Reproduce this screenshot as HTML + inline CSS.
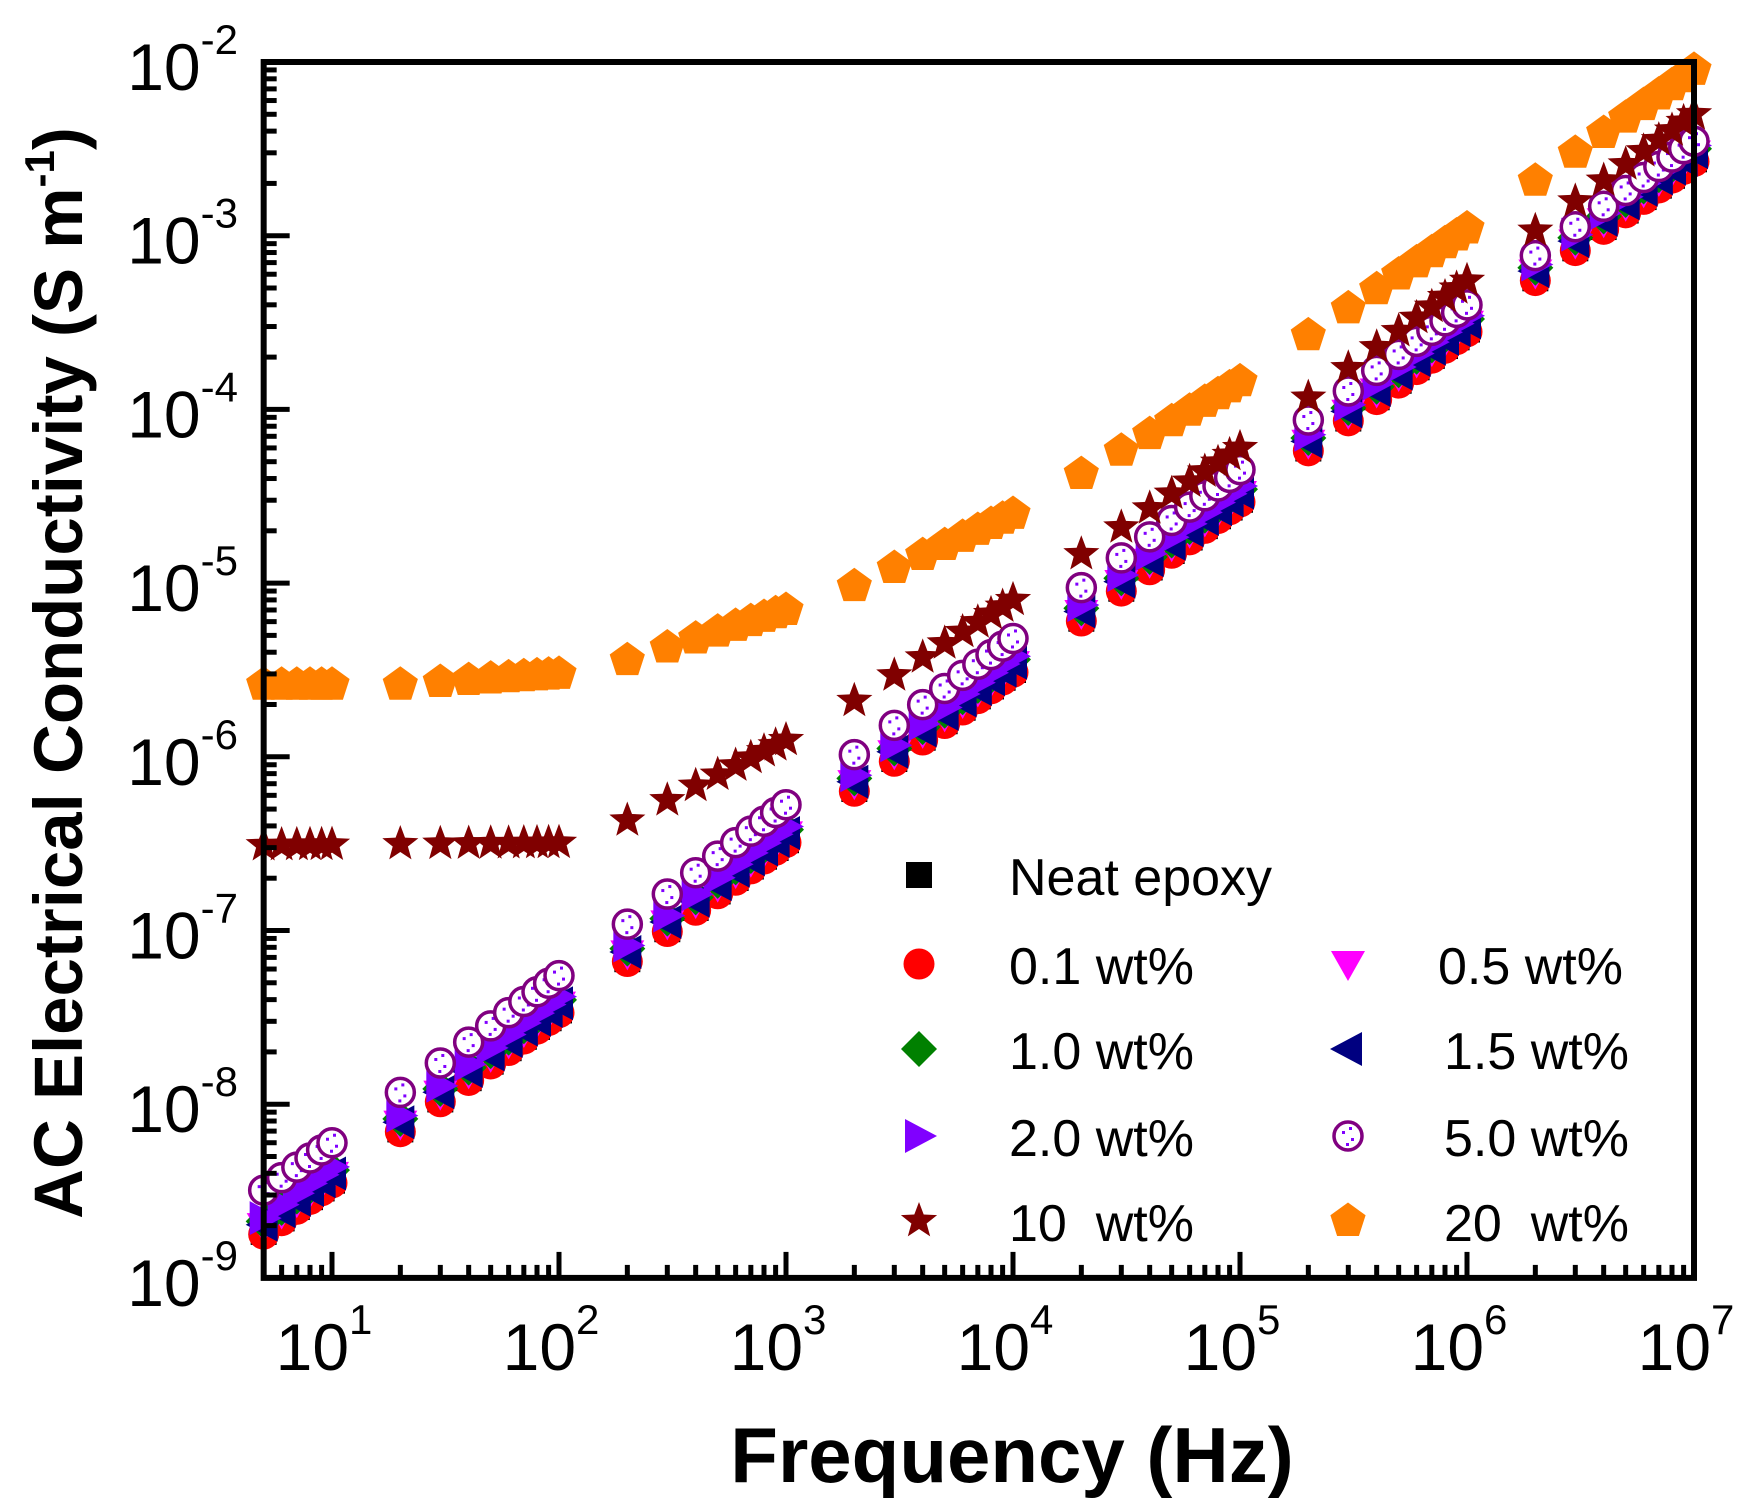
<!DOCTYPE html>
<html><head><meta charset="utf-8"><style>
html,body{margin:0;padding:0;background:#fff;}
svg{display:block;font-family:"Liberation Sans",Arial,sans-serif;}
</style></head><body>
<svg id="s" width="1759" height="1502" viewBox="0 0 1759 1502" xmlns="http://www.w3.org/2000/svg">
<rect width="1759" height="1502" fill="#fff"/>
<g id="data"></g>
<g id="axes"></g>
<g id="legend"></g>
<text x="1012" y="1482" font-size="78" font-weight="bold" text-anchor="middle">Frequency (Hz)</text>
<text transform="translate(82,673) rotate(-90)" font-size="69" font-weight="bold" text-anchor="middle">AC Electrical Conductivity (S m<tspan dy="-28" font-size="42">-1</tspan><tspan dy="28">)</tspan></text>
</svg>
<script>
var NS="http://www.w3.org/2000/svg";
function el(p,t,a){var e=document.createElementNS(NS,t);for(var k in a)e.setAttribute(k,a[k]);p.appendChild(e);return e;}
function X(lf){return 332+227*(lf-1);}
function Y(ls){return 62+173.7*(-2-ls);}
var L=0.69897;
var axes=document.getElementById('axes');
el(axes,'rect',{x:X(L),y:62,width:X(7)-X(L),height:Y(-9)-62,fill:'none',stroke:'#000','stroke-width':6});
for(var d=0;d<=7;d++){for(var m=1;m<10;m++){var lf=d+Math.log10(m);if(lf<L-1e-6||lf>7)continue;var x=X(lf);var len=m==1?26:13;el(axes,'line',{x1:x,y1:Y(-9),x2:x,y2:Y(-9)-len,stroke:'#000','stroke-width':5});}}
for(var d=-9;d<=-2;d++){for(var m=1;m<10;m++){var ls=d+Math.log10(m);if(ls>-2)continue;var y=Y(ls);var len=m==1?26:13;el(axes,'line',{x1:X(L),y1:y,x2:X(L)+len,y2:y,stroke:'#000','stroke-width':5});}}
for(var d=1;d<=7;d++){var t=el(axes,'text',{x:X(d)-8,y:1370,'font-size':66,'text-anchor':'middle'});t.innerHTML='10<tspan dy="-36" font-size="42">'+d+'</tspan>';}
for(var d=-9;d<=-2;d++){var t=el(axes,'text',{x:238,y:Y(d)+28,'font-size':66,'text-anchor':'end'});t.innerHTML='10<tspan dy="-36" font-size="42">'+d+'</tspan>';}
var F=[5,6,7,8,9,10];for(var k=1;k<=6;k++)for(var m=2;m<=10;m++)F.push(m*Math.pow(10,k));
function interp(A,lf){for(var i=0;i<A.length-1;i++){if(lf<=A[i+1][0]||i==A.length-2){var t=(lf-A[i][0])/(A[i+1][0]-A[i][0]);return A[i][1]+t*(A[i+1][1]-A[i][1]);}}}
function base(f,k){return Math.log10(3.8e-10*k)+0.98*Math.log10(f);}
function mk(p,type,x,y,c){
 var r=15.5;
 if(type=='sq')el(p,'rect',{x:x-13,y:y-13,width:26,height:26,fill:c});
 else if(type=='ci')el(p,'circle',{cx:x,cy:y,r:r,fill:c});
 else if(type=='dt')el(p,'polygon',{points:(x-17)+','+(y-13)+' '+(x+17)+','+(y-13)+' '+x+','+(y+17),fill:c});
 else if(type=='di')el(p,'polygon',{points:x+','+(y-18)+' '+(x+18)+','+y+' '+x+','+(y+18)+' '+(x-18)+','+y,fill:c});
 else if(type=='lt')el(p,'polygon',{points:(x-18)+','+y+' '+(x+14)+','+(y-17)+' '+(x+14)+','+(y+17),fill:c});
 else if(type=='rt')el(p,'polygon',{points:(x+18)+','+y+' '+(x-14)+','+(y-17)+' '+(x-14)+','+(y+17),fill:c});
 else if(type=='oc'){el(p,'circle',{cx:x,cy:y,r:14,fill:'#fff',stroke:'#800080','stroke-width':3.5});el(p,'rect',{x:x-6,y:y-5,width:3,height:3,fill:'#8000ff'});el(p,'rect',{x:x+3,y:y+2,width:3,height:3,fill:'#8000ff'});el(p,'rect',{x:x-2,y:y+7,width:3,height:3,fill:'#8000ff'});el(p,'rect',{x:x+1,y:y-9,width:3,height:3,fill:'#8000ff'});}
 else if(type=='st'){var s='';for(var i=0;i<10;i++){var a=-Math.PI/2+i*Math.PI/5;var rr=i%2?8:19;s+=(x+rr*Math.cos(a)).toFixed(1)+','+(y+rr*Math.sin(a)).toFixed(1)+' ';}el(p,'polygon',{points:s,fill:c});}
 else if(type=='pe'){var s='';for(var i=0;i<5;i++){var a=-Math.PI/2+i*2*Math.PI/5;s+=(x+18.5*Math.cos(a)).toFixed(1)+','+(y+18.5*Math.sin(a)).toFixed(1)+' ';}el(p,'polygon',{points:s,fill:c});}
}
var S=[
 ['sq','#000',function(f){return base(f,1.0);}],
 ['ci','#ff0000',function(f){return base(f,0.97);}],
 ['dt','#ff00ff',function(f){return base(f,1.08);}],
 ['di','#008000',function(f){return base(f,1.15);}],
 ['lt','#000080',function(f){return base(f,1.1);}],
 ['rt','#8000ff',function(f){return base(f,1.2);}],
 ['oc','#800080',function(f){return interp([[0.699,Math.log10(3.2e-9)],[1,Math.log10(6e-9)],[2,Math.log10(5.5e-8)],[3,Math.log10(5.3e-7)],[4,Math.log10(4.8e-6)],[5,Math.log10(4.5e-5)],[6,Math.log10(4e-4)],[7,Math.log10(3.5e-3)]],Math.log10(f));}],
 ['st','#800000',function(f){return interp([[0.699,Math.log10(3.1e-7)],[2,Math.log10(3.2e-7)],[2.301,Math.log10(4.3e-7)],[3,Math.log10(1.25e-6)],[3.301,Math.log10(2.1e-6)],[4,Math.log10(8e-6)],[5,Math.log10(6e-5)],[6,Math.log10(5.5e-4)],[7,Math.log10(5e-3)]],Math.log10(f));}],
 ['pe','#ff8000',function(f){return interp([[0.699,Math.log10(2.6e-6)],[1.301,Math.log10(2.6e-6)],[2,Math.log10(3e-6)],[2.301,Math.log10(3.6e-6)],[3,Math.log10(7e-6)],[3.301,Math.log10(9.6e-6)],[4,Math.log10(2.5e-5)],[5,Math.log10(1.45e-4)],[6,Math.log10(1.1e-3)],[7,Math.log10(9e-3)]],Math.log10(f));}]
];
var data=document.getElementById('data');
S.forEach(function(s){F.forEach(function(f){var lf=Math.log10(f);mk(data,s[0],X(lf),Y(s[2](f)),s[1]);});});
var lg=document.getElementById('legend');
var rows=[875,964,1049,1136,1221];
function li(type,c,sx,tx,y,txt){mk(lg,type,sx,y,c);var t=el(lg,'text',{x:tx,y:y+20,'font-size':52});t.textContent=txt;t.style.whiteSpace='pre';}
li('sq','#000',919,1009,rows[0],'Neat epoxy');
li('ci','#ff0000',919,1009,rows[1],'0.1 wt%');
li('dt','#ff00ff',1348,1438,rows[1],'0.5 wt%');
li('di','#008000',919,1009,rows[2],'1.0 wt%');
li('lt','#000080',1348,1444,rows[2],'1.5 wt%');
li('rt','#8000ff',919,1009,rows[3],'2.0 wt%');
li('oc','#800080',1348,1444,rows[3],'5.0 wt%');
li('st','#800000',919,1009,rows[4],'10  wt%');
li('pe','#ff8000',1348,1444,rows[4],'20  wt%');
</script>
</body></html>
